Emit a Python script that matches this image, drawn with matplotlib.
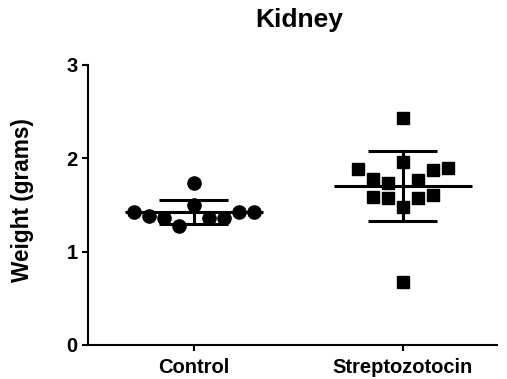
import numpy as np
import matplotlib
matplotlib.use("Agg")
import matplotlib.pyplot as plt

plt.rcParams['font.family'] = ['Liberation Sans', 'DejaVu Sans']
plt.rcParams['font.weight'] = 'bold'

# ---- data (listed in left-to-right order within each group) ----
categories = ["Control", "Streptozotocin"]
control = [1.43, 1.38, 1.36, 1.27, 1.50, 1.36, 1.36, 1.43, 1.43, 1.74]
streptozotocin = [2.43, 1.89, 1.78, 1.74, 1.96, 1.77, 1.87, 1.90,
                  1.59, 1.57, 1.48, 1.58, 1.61, 0.68]
markers = ["o", "s"]
title = "Kidney"
ylabel = "Weight (grams)"
yticks = [0, 1, 2, 3]


def swarm_offsets(vals, gap=0.11, step=0.072):
    """Group values into rows (clusters of close values) and spread each
    row evenly around the centre, keeping the listed order."""
    vals = np.asarray(vals, float)
    order = np.argsort(vals)
    labels = np.zeros(len(vals), int)
    lab = 0
    for k in range(1, len(order)):
        if vals[order[k]] - vals[order[k - 1]] > gap:
            lab += 1
        labels[order[k]] = lab
    offs = np.zeros(len(vals))
    for l in np.unique(labels):
        idx = np.where(labels == l)[0]
        n = len(idx)
        offs[idx] = (np.arange(n) - (n - 1) / 2) * step
    return offs


fig = plt.figure(figsize=(5.07, 3.79), dpi=100)
ax = fig.add_axes([88 / 507, 1 - 345 / 379, (497 - 88) / 507, (345 - 65) / 379])

groups = [control, streptozotocin]
for i, (vals, m) in enumerate(zip(groups, markers)):
    vals = np.asarray(vals)
    x = i + swarm_offsets(vals)
    ax.plot(x, vals, linestyle="none", marker=m, color="black",
            markersize=9.5 if m == "o" else 9.0, zorder=3, clip_on=False)
    mean = vals.mean()
    sd = vals.std(ddof=1)
    ax.plot([i - 0.33, i + 0.33], [mean, mean], color="black", lw=2.2,
            solid_capstyle="butt", zorder=4)
    ax.plot([i, i], [mean - sd, mean + sd], color="black", lw=2.2, zorder=4)
    for y in (mean - sd, mean + sd):
        ax.plot([i - 0.165, i + 0.165], [y, y], color="black", lw=2.2,
                solid_capstyle="butt", zorder=4)

ax.set_xlim(-0.507, 1.45)
ax.set_ylim(0, 3)
ax.set_yticks(yticks)
ax.set_yticklabels([str(t) for t in yticks])
ax.set_xticks(range(len(categories)))
ax.set_xticklabels(categories)
for s in ("top", "right"):
    ax.spines[s].set_visible(False)
for s in ("left", "bottom"):
    ax.spines[s].set_linewidth(1.5)
ax.tick_params(axis="both", width=1.5, length=4.5, labelsize=14.5, pad=3)
ax.tick_params(axis="x", pad=5)
for lab in ax.get_xticklabels() + ax.get_yticklabels():
    lab.set_fontweight("bold")

fig.text(23 / 507, 1 - 200 / 379, ylabel, rotation=90, ha="center",
         va="center", fontsize=16.3, fontweight="bold")
fig.text(299 / 507, 1 - 20 / 379, title, ha="center", va="center",
         fontsize=19, fontweight="bold")

fig.savefig("out.png", dpi=100)
